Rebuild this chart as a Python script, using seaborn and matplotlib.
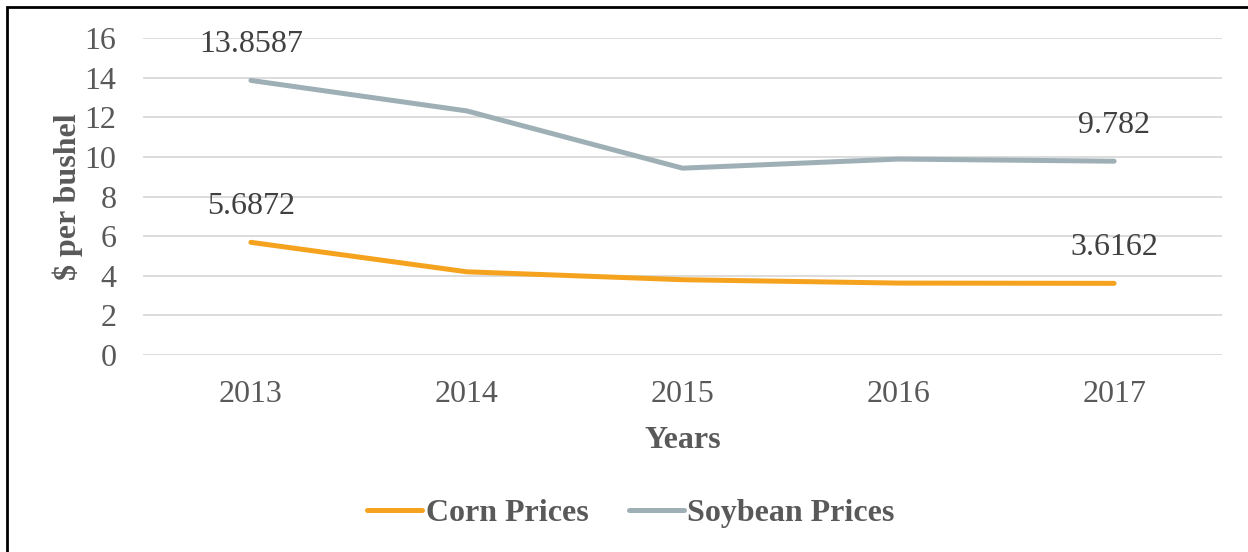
import numpy as np
import pandas as pd
import matplotlib.pyplot as plt
import seaborn as sns
from matplotlib.patches import Rectangle

years = ["2013", "2014", "2015", "2016", "2017"]
corn_prices = [5.6872, 4.20, 3.80, 3.63, 3.6162]
soybean_prices = [13.8587, 12.32, 9.43, 9.89, 9.782]
series_names = ["Corn Prices", "Soybean Prices"]
colors = ["#F5A31E", "#9EB0B6"]

df = pd.DataFrame({
    "year": years * 2,
    "price": corn_prices + soybean_prices,
    "series": [series_names[0]] * len(years) + [series_names[1]] * len(years),
})

sns.set_style("white")
plt.rcParams["font.family"] = ["Liberation Serif", "DejaVu Serif"]

fig = plt.figure(figsize=(12.48, 5.52), dpi=100)
ax = fig.add_axes([143 / 1248, 1 - 355 / 552, (1222 - 143) / 1248, (355 - 38) / 552])

sns.lineplot(data=df, x="year", y="price", hue="series", palette=colors,
             linewidth=3.6, sort=False, ax=ax, solid_capstyle="round")

ax.set_xlim(-0.5, len(years) - 0.5)
ax.set_ylim(0, 16)
ax.set_yticks(np.arange(0, 17, 2))
ax.grid(axis="y", color="#D9D9D9", linewidth=1.3)
ax.set_axisbelow(True)
for s in ax.spines.values():
    s.set_visible(False)
ax.tick_params(axis="both", length=0, labelsize=23, labelcolor="#595959")
ax.tick_params(axis="y", pad=19)
ax.tick_params(axis="x", pad=18)

ax.set_xlabel("Years", fontsize=23, fontweight="bold", color="#595959", labelpad=12)
ax.set_ylabel("$ per bushel", fontsize=23, fontweight="bold", color="#595959", labelpad=1)

# end-point labels
for vals in (corn_prices, soybean_prices):
    for i in (0, len(years) - 1):
        ax.annotate(f"{vals[i]:g}", (i, vals[i]), xytext=(0, 26), textcoords="offset points",
                    ha="center", va="center", fontsize=23, color="#404040")

handles, labels = ax.get_legend_handles_labels()
ax.legend(handles, labels, loc="center", bbox_to_anchor=(631 / 1248, 1 - 513 / 552),
          bbox_transform=fig.transFigure, ncol=2, frameon=False, handlelength=1.72,
          handletextpad=0.12, columnspacing=1.25,
          prop={"size": 23, "weight": "bold"}, labelcolor="#595959")

fig.patches.append(Rectangle((7 / 1248, -0.1), 1.2, 1.1 - 7 / 552, transform=fig.transFigure,
                             fill=False, edgecolor="black", linewidth=2))

fig.savefig("out.png", dpi=100)
